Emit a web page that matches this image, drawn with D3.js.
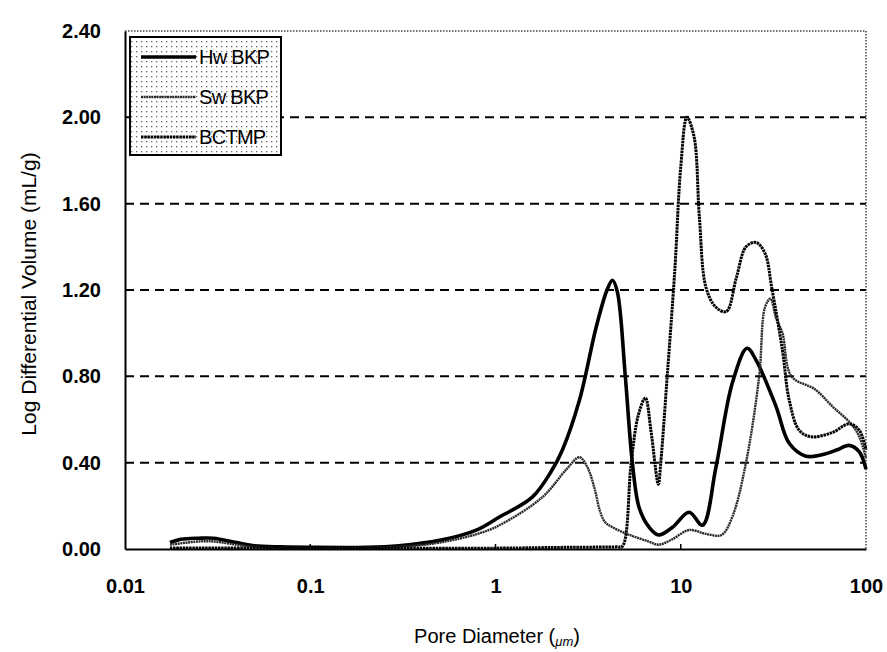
<!DOCTYPE html>
<html><head><meta charset="utf-8">
<script src="https://cdn.jsdelivr.net/npm/d3@7"></script>
<style>body{margin:0;background:#fff}svg{display:block}</style>
</head><body>
<svg id="chart" width="887" height="652"></svg>
<script>
// ---- data ----
const xTicks = [0.01, 0.1, 1, 10, 100];
const xTickLabels = ["0.01", "0.1", "1", "10", "100"];
const yTicks = [0, 0.4, 0.8, 1.2, 1.6, 2.0, 2.4];
const yTickLabels = ["0.00", "0.40", "0.80", "1.20", "1.60", "2.00", "2.40"];
const seriesNames = ["Hw BKP", "Sw BKP", "BCTMP"];

const hwBKP = [[0.0175,0.03],[0.02,0.045],[0.025,0.05],[0.03,0.05],[0.04,0.03],[0.05,0.015],[0.07,0.01],[0.1,0.008],[0.2,0.008],[0.3,0.015],[0.5,0.04],[0.8,0.09],[1.05,0.148],[1.58,0.24],[2.0,0.36],[2.3,0.46],[2.84,0.69],[3.5,1.03],[4.0,1.2],[4.28,1.245],[4.55,1.19],[5.02,0.8],[5.48,0.40],[5.97,0.19],[6.76,0.10],[7.6,0.065],[9.0,0.10],[11.1,0.17],[13.1,0.11],[15.5,0.38],[19.0,0.77],[22.8,0.93],[25.5,0.875],[32.7,0.66],[38.5,0.49],[47.5,0.43],[60,0.44],[70,0.46],[81,0.48],[92,0.45],[100,0.37]];

const swBKP = [[0.0175,0.02],[0.025,0.035],[0.03,0.035],[0.04,0.02],[0.05,0.01],[0.1,0.005],[0.3,0.01],[0.5,0.03],[0.8,0.07],[1.05,0.11],[1.79,0.24],[2.42,0.37],[2.84,0.425],[3.13,0.38],[3.45,0.27],[3.65,0.18],[3.9,0.125],[4.3,0.10],[5.3,0.065],[6.7,0.035],[7.6,0.02],[9.0,0.045],[11.1,0.088],[13.7,0.07],[16.6,0.065],[19,0.15],[22.5,0.40],[26.5,0.80],[28.5,1.12],[30.5,1.16],[32.7,1.07],[35.4,1.0],[39.6,0.80],[53,0.74],[66,0.66],[83,0.58],[92,0.52],[100,0.42]];

const bctmp = [[0.0175,0.005],[0.1,0.004],[1,0.004],[2.5,0.008],[4.5,0.01],[4.84,0.012],[5.4,0.40],[5.9,0.62],[6.44,0.70],[6.9,0.55],[7.57,0.30],[7.8,0.40],[8.45,0.80],[9.3,1.3],[10.0,1.77],[10.8,2.0],[11.8,1.91],[12.6,1.54],[13.7,1.21],[15.5,1.12],[17.6,1.1],[20,1.26],[22.5,1.40],[25.5,1.42],[28.5,1.37],[31,1.21],[35.4,0.92],[38.5,0.69],[43.6,0.55],[50.6,0.52],[66,0.54],[81,0.58],[92,0.55],[100,0.46]];

// ---- layout ----
const svg = d3.select("#chart");
const L = 125, R = 866, T = 31, B = 549;
const FONT = "Liberation Sans, Arial, sans-serif";
const x = d3.scaleLog().domain([0.01, 100]).range([L, R]);
const y = d3.scaleLinear().domain([0, 2.4]).range([B, T]);

const defs = svg.append("defs");
const pat = defs.append("pattern").attr("id","dots").attr("width",5).attr("height",5).attr("patternUnits","userSpaceOnUse");
pat.append("rect").attr("width",5).attr("height",5).attr("fill","#fff");
pat.append("rect").attr("x",1).attr("y",1).attr("width",1.3).attr("height",1.3).attr("fill","#666");

// gridlines
svg.append("g").selectAll("line").data(yTicks.filter(v => v > 0 && v < 2.4)).join("line")
  .attr("x1", L).attr("x2", R).attr("y1", d => y(d)).attr("y2", d => y(d))
  .attr("stroke", "#000").attr("stroke-width", 2).attr("stroke-dasharray", "9,6");

// top and right dotted border
svg.append("line").attr("x1", L).attr("x2", R).attr("y1", T).attr("y2", T)
  .attr("stroke", "#444").attr("stroke-width", 1.5).attr("stroke-dasharray", "1.5,1.5");
svg.append("line").attr("x1", R).attr("x2", R).attr("y1", T).attr("y2", B)
  .attr("stroke", "#444").attr("stroke-width", 1.5).attr("stroke-dasharray", "1.5,1.5");

// axes
const xAxis = d3.axisBottom(x).tickValues(xTicks).tickFormat((d,i) => xTickLabels[i]).tickSize(0).tickPadding(30);
const gx = svg.append("g").attr("transform", `translate(0,${B})`).call(xAxis);
gx.select(".domain").attr("stroke", "#000").attr("stroke-width", 2);
gx.selectAll("text").attr("font-family", FONT).attr("font-size", 20).attr("font-weight", "bold").attr("fill", "#000");
svg.append("g").selectAll("line").data(xTicks.slice(1, -1)).join("line")
  .attr("x1", d => x(d)).attr("x2", d => x(d)).attr("y1", B).attr("y2", B - 5).attr("stroke", "#000").attr("stroke-width", 1.5);

const yAxis = d3.axisLeft(y).tickValues(yTicks).tickFormat((d,i) => yTickLabels[i]).tickSize(0).tickPadding(24);
const gy = svg.append("g").attr("transform", `translate(${L},0)`).call(yAxis);
gy.select(".domain").attr("stroke", "#000").attr("stroke-width", 2);
gy.selectAll("text").attr("font-family", FONT).attr("font-size", 20).attr("font-weight", "bold").attr("fill", "#000");

// axis titles
svg.append("text").attr("transform", `translate(36,${(T + B) / 2 + 4}) rotate(-90)`)
  .attr("text-anchor", "middle").attr("font-family", FONT).attr("font-size", 21).attr("fill", "#000")
  .text("Log Differential Volume (mL/g)");
const xt = svg.append("text").attr("x", 497).attr("y", 643).attr("text-anchor", "middle")
  .attr("font-family", FONT).attr("font-size", 20).attr("fill", "#000");
xt.append("tspan").text("Pore Diameter (");
xt.append("tspan").attr("font-size", 13).attr("font-style", "italic").attr("dy", 3).text("μm");
xt.append("tspan").attr("dy", -3).text(")");

// series
const line = d3.line().x(d => x(d[0])).y(d => y(d[1])).curve(d3.curveCatmullRom.alpha(0.5));
const styles = [
  {data: hwBKP, stroke: "#000", width: 3.6, dash: null},
  {data: swBKP, stroke: "#2a2a2a", width: 2.4, dash: "2,0.6"},
  {data: bctmp, stroke: "#000", width: 3, dash: "2.5,0.7"}
];
svg.append("g").selectAll("path").data(styles).join("path")
  .attr("d", d => line(d.data)).attr("fill", "none")
  .attr("stroke", d => d.stroke).attr("stroke-width", d => d.width)
  .attr("stroke-dasharray", d => d.dash).attr("stroke-linejoin", "round");

// legend
const lg = svg.append("g");
lg.append("rect").attr("x", 130).attr("y", 37).attr("width", 151).attr("height", 118)
  .attr("fill", "url(#dots)").attr("stroke", "#000").attr("stroke-width", 2);
const ly = [57, 97, 137];
seriesNames.forEach((name, i) => {
  const s = styles[i];
  lg.append("line").attr("x1", 141).attr("x2", 196).attr("y1", ly[i]).attr("y2", ly[i])
    .attr("stroke", s.stroke).attr("stroke-width", s.width).attr("stroke-dasharray", s.dash);
  lg.append("text").attr("x", 199).attr("y", ly[i] + 7).attr("font-family", FONT)
    .attr("font-size", 20).attr("letter-spacing", -0.7).attr("fill", "#000").text(name);
});
</script>
</body></html>
